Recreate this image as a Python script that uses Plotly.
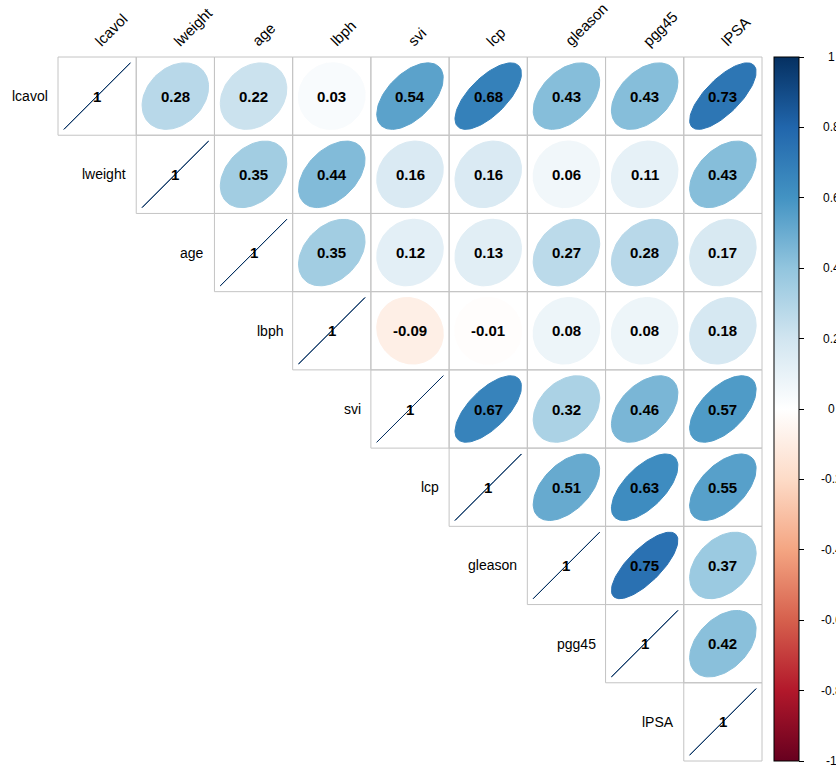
import numpy as np
import plotly.graph_objects as go
from plotly.colors import sample_colorscale

# Variables of the prostate cancer data set
variables = ["lcavol", "lweight", "age", "lbph", "svi", "lcp", "gleason", "pgg45", "lPSA"]

# Upper-triangle correlations, each row starting at its diagonal
r_lcavol = [1, 0.28, 0.22, 0.03, 0.54, 0.68, 0.43, 0.43, 0.73]
r_lweight = [1, 0.35, 0.44, 0.16, 0.16, 0.06, 0.11, 0.43]
r_age = [1, 0.35, 0.12, 0.13, 0.27, 0.28, 0.17]
r_lbph = [1, -0.09, -0.01, 0.08, 0.08, 0.18]
r_svi = [1, 0.67, 0.32, 0.46, 0.57]
r_lcp = [1, 0.51, 0.63, 0.55]
r_gleason = [1, 0.75, 0.37]
r_pgg45 = [1, 0.42]
r_lpsa = [1]
upper_rows = [r_lcavol, r_lweight, r_age, r_lbph, r_svi, r_lcp, r_gleason, r_pgg45, r_lpsa]

# Colour legend ticks
legend_ticks = [1, 0.8, 0.6, 0.4, 0.2, 0, -0.2, -0.4, -0.6, -0.8, -1]
legend_tick_labels = ["1", "0.8", "0.6", "0.4", "0.2", "0", "-0.2", "-0.4", "-0.6", "-0.8", "-1"]

# Diverging red-blue palette
rdbu_colors = ["#67001F", "#B2182B", "#D6604D", "#F4A582", "#FDDBC7", "#FFFFFF",
               "#D1E5F0", "#92C5DE", "#4393C3", "#2166AC", "#053061"]
colorscale = [[i / 10, c] for i, c in enumerate(rdbu_colors)]

W, H = 836, 766
LEFT, TOP = 58.0, 57.0
n = len(variables)
CELL = 704.0 / n
FONT = "Liberation Sans, Arial, sans-serif"

fig = go.Figure()
shapes = []
annotations = []

k = np.linspace(0, 2 * np.pi, 99)
for i, row in enumerate(upper_rows):
    for off, r in enumerate(row):
        j = i + off
        x0 = LEFT + j * CELL
        y0 = TOP + i * CELL
        cx, cy = x0 + CELL / 2, y0 + CELL / 2
        shapes.append(dict(type="rect", x0=x0, x1=x0 + CELL, y0=y0, y1=y0 + CELL,
                           line=dict(color="#C4C4C4", width=1), fillcolor="rgba(0,0,0,0)",
                           layer="below"))
        d = np.arccos(np.clip(r, -1, 1))
        ex = 0.85 * np.cos(k + d / 2) / 2
        ey = 0.85 * np.cos(k - d / 2) / 2
        col = sample_colorscale(colorscale, [(r + 1) / 2])[0]
        fig.add_trace(go.Scatter(
            x=cx + ex * CELL, y=cy - ey * CELL, mode="lines",
            fill="toself", fillcolor=col, line=dict(color=col, width=1),
            hoverinfo="skip", showlegend=False))
        label = "1" if r == 1 else f"{r:.2f}"
        annotations.append(dict(x=cx, y=cy, text=f"<b>{label}</b>", showarrow=False,
                                font=dict(family=FONT, size=15, color="black"),
                                xanchor="center", yanchor="middle"))

# Row labels on the left of the diagonal, column labels rotated above the grid
for i, name in enumerate(variables):
    annotations.append(dict(x=LEFT + i * CELL - 8, y=TOP + (i + 0.5) * CELL, text=name,
                            showarrow=False, xanchor="right", yanchor="middle",
                            font=dict(family=FONT, size=14, color="black")))
    annotations.append(dict(x=LEFT + (i + 0.5) * CELL - 8, y=TOP - 5, text=name,
                            showarrow=False, xanchor="left", yanchor="bottom", textangle=-45,
                            font=dict(family=FONT, size=15, color="black")))

# Colour legend
CB_X, CB_W = 774.0, 25.0
fig.add_trace(go.Scatter(
    x=[-100], y=[-100], mode="markers",
    marker=dict(color=[0], colorscale=colorscale, cmin=-1, cmax=1, showscale=True,
                colorbar=dict(x=CB_X / W, xanchor="left", y=1 - TOP / H, yanchor="top",
                              lenmode="pixels", len=n * CELL,
                              thicknessmode="pixels", thickness=CB_W,
                              xpad=0, ypad=0, outlinewidth=1, outlinecolor="black",
                              ticks="outside", ticklen=5, tickcolor="black",
                              tickvals=legend_ticks, showticklabels=False)),
    hoverinfo="skip", showlegend=False))
for v, t in zip(legend_ticks, legend_tick_labels):
    annotations.append(dict(x=831, y=TOP + (1 - v) / 2 * n * CELL, text=t, showarrow=False,
                            xanchor="center", yanchor="middle",
                            font=dict(family=FONT, size=12, color="black")))

fig.update_layout(
    width=W, height=H, margin=dict(l=0, r=0, t=0, b=0),
    paper_bgcolor="white", plot_bgcolor="white",
    xaxis=dict(range=[0, W], visible=False, fixedrange=True),
    yaxis=dict(range=[H, 0], visible=False, fixedrange=True),
    shapes=shapes, annotations=annotations, showlegend=False,
)

fig.write_html("out.html")
